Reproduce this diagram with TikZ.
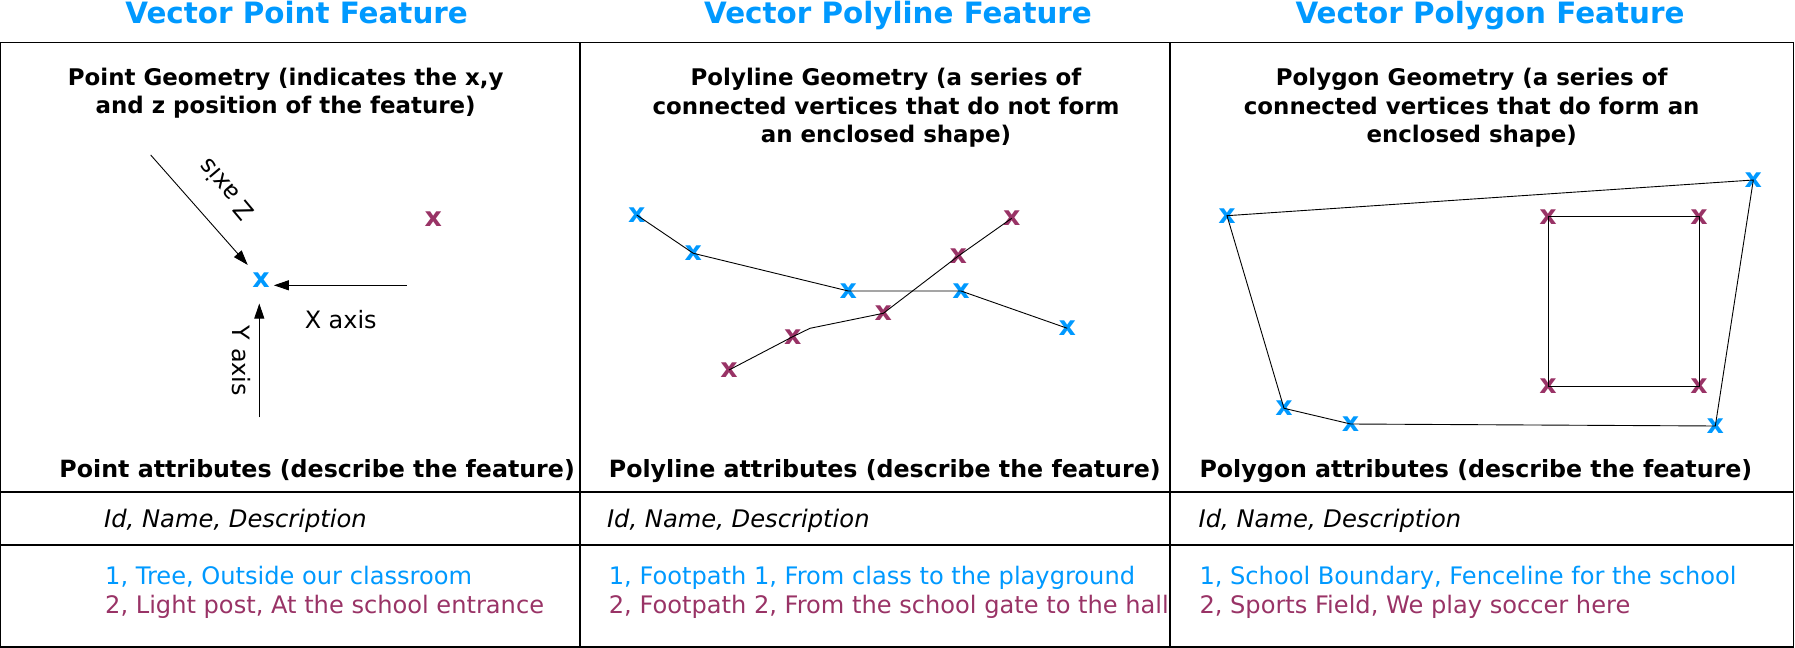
\documentclass[tikz,border=0pt]{standalone}
\usepackage{fontspec}
\setmainfont{DejaVu Sans}
\usepackage{xcolor}
\usepackage{tikz}
\usetikzlibrary{arrows.meta,positioning}
\definecolor{featblue}{RGB}{0,153,255}
\definecolor{featpurple}{RGB}{153,51,102}
\begin{document}
\begin{tikzpicture}[x=1bp, y=-1bp,
    title/.style={anchor=base, font=\bfseries\fontsize{29.5}{32}\selectfont, text=featblue},
    geomhead/.style={font=\bfseries\fontsize{23}{28.6}\selectfont, align=center},
    attrhead/.style={anchor=base west, font=\bfseries\fontsize{23.8}{28}\selectfont, inner sep=0pt},
    fields/.style={anchor=base west, font=\itshape\fontsize{24.3}{28}\selectfont, inner sep=0pt},
    rec/.style={anchor=base west, font=\fontsize{24.2}{28}\selectfont, inner sep=0pt},
    axlab/.style={font=\fontsize{24}{28}\selectfont},
    mk/.style={inner sep=0pt, font=\bfseries\fontsize{27}{27}\selectfont},
    tbl/.style={line width=1.3bp},
    seg/.style={line width=0.9bp},
    arr/.style={line width=0.9bp, -{Triangle[length=15bp,width=10bp]}}
  ]
    \useasboundingbox (0,0) rectangle (1795,648);
    % titles
    \node[title] (t1) at (296.6,24) {Vector Point Feature};
    \node[title] (t2) at (898,24) {Vector Polyline Feature};
    \node[title] (t3) at (1490,24) {Vector Polygon Feature};
    % table
    \draw[tbl] (0.7,42.7) rectangle (1793.5,647);
    \draw[tbl] (580,42.7) -- (580,647);
    \draw[tbl] (1170,42.7) -- (1170,647);
    \draw[tbl] (0.7,492) -- (1793.5,492);
    \draw[tbl] (0.7,545) -- (1793.5,545);
    % geometry headings
    \node[geomhead] (h1) at (285.7,93) {Point Geometry (indicates the x,y\\and z position of the feature)};
    \node[geomhead] (h2) at (886,108) {Polyline Geometry (a series of\\connected vertices that do not form\\an enclosed shape)};
    \node[geomhead] (h3) at (1471.7,108) {Polygon Geometry (a series of\\connected vertices that do form an\\enclosed shape)};
    % point
    \node[mk, text=featblue] (pa) at (261,280) {x};
    \node[mk, text=featpurple] (pb) at (433.3,219.3) {x};
    \coordinate (zfrom) at (150.7,155);
    \coordinate (xfrom) at (406.7,285.3);
    \coordinate (yfrom) at (259.3,417.3);
    \draw[arr, shorten >=10bp] (zfrom) -- (pa);
    \draw[arr, shorten >=4bp] (xfrom) -- (pa.east |- xfrom);
    \draw[arr, shorten >=16bp] (yfrom) -- (yfrom |- pa.south);
    \node[axlab, rotate=130] (zlab) at (226,190) {Z axis};
    \node[axlab] (xlab) at (340.7,320) {X axis};
    \node[axlab, rotate=-90] (ylab) at (241,361) {Y axis};
    % polyline
    \node[mk, text=featblue] (l1) at (636.7,215) {x};
    \node[mk, text=featblue] (l2) at (693.3,253.3) {x};
    \node[mk, text=featblue] (l3) at (848.3,291) {x};
    \node[mk, text=featblue] (l4) at (961,291) {x};
    \node[mk, text=featblue] (l5) at (1067.3,328.3) {x};
    \node[mk, text=featpurple] (m1) at (729,370) {x};
    \node[mk, text=featpurple] (m2) at (792.7,336.7) {x};
    \node[mk, text=featpurple] (m3) at (883.3,313.3) {x};
    \node[mk, text=featpurple] (m4) at (958.3,256) {x};
    \node[mk, text=featpurple] (m5) at (1011.7,218.3) {x};
    \coordinate (kink) at (810,328.3);
    \draw[seg] (l1.center) -- (l2.center) -- (l3.center) -- (l4.center) -- (l5.center);
    \draw[seg] (m1.center) -- (m2.center) -- (kink) -- (m3.center) -- (m4.center) -- (m5.center);
    % polygon
    \node[mk, text=featblue] (g1) at (1227,215.7) {x};
    \node[mk, text=featblue] (g2) at (1753.3,180) {x};
    \node[mk, text=featblue] (g3) at (1715.3,426) {x};
    \node[mk, text=featblue] (g4) at (1350.6,424) {x};
    \node[mk, text=featblue] (g5) at (1284,408.3) {x};
    \node[mk, text=featpurple] (s1) at (1548,216.7) {x};
    \node[mk, text=featpurple] (s2) at (1699,216.7) {x};
    \node[mk, text=featpurple] (s3) at (1699,386) {x};
    \node[mk, text=featpurple] (s4) at (1548,386) {x};
    \draw[seg] (g1.center) -- (g2.center) -- (g3.center) -- (g4.center) -- (g5.center) -- cycle;
    \draw[seg] (s1.center) -- (s2.center) -- (s3.center) -- (s4.center) -- cycle;
    % attributes
    \node[attrhead] (a1) at (59.3,477) {Point attributes (describe the feature)};
    \node[attrhead] (a2) at (608.7,477) {Polyline attributes (describe the feature)};
    \node[attrhead] (a3) at (1199.3,477) {Polygon attributes (describe the feature)};
    \node[fields] (f1) at (104,527) {Id, Name, Description};
    \node[fields] (f2) at (606.8,527) {Id, Name, Description};
    \node[fields] (f3) at (1198.5,527) {Id, Name, Description};
    \node[rec, text=featblue] (r11) at (105,584) {1, Tree, Outside our classroom};
    \node[rec, text=featpurple] (r12) at (105,613) {2, Light post, At the school entrance};
    \node[rec, text=featblue] (r21) at (608.7,584) {1, Footpath 1, From class to the playground};
    \node[rec, text=featpurple] (r22) at (608.7,613) {2, Footpath 2, From the school gate to the hall};
    \node[rec, text=featblue] (r31) at (1199.3,584) {1, School Boundary, Fenceline for the school};
    \node[rec, text=featpurple] (r32) at (1199.3,613) {2, Sports Field, We play soccer here};
\end{tikzpicture}
\end{document}
